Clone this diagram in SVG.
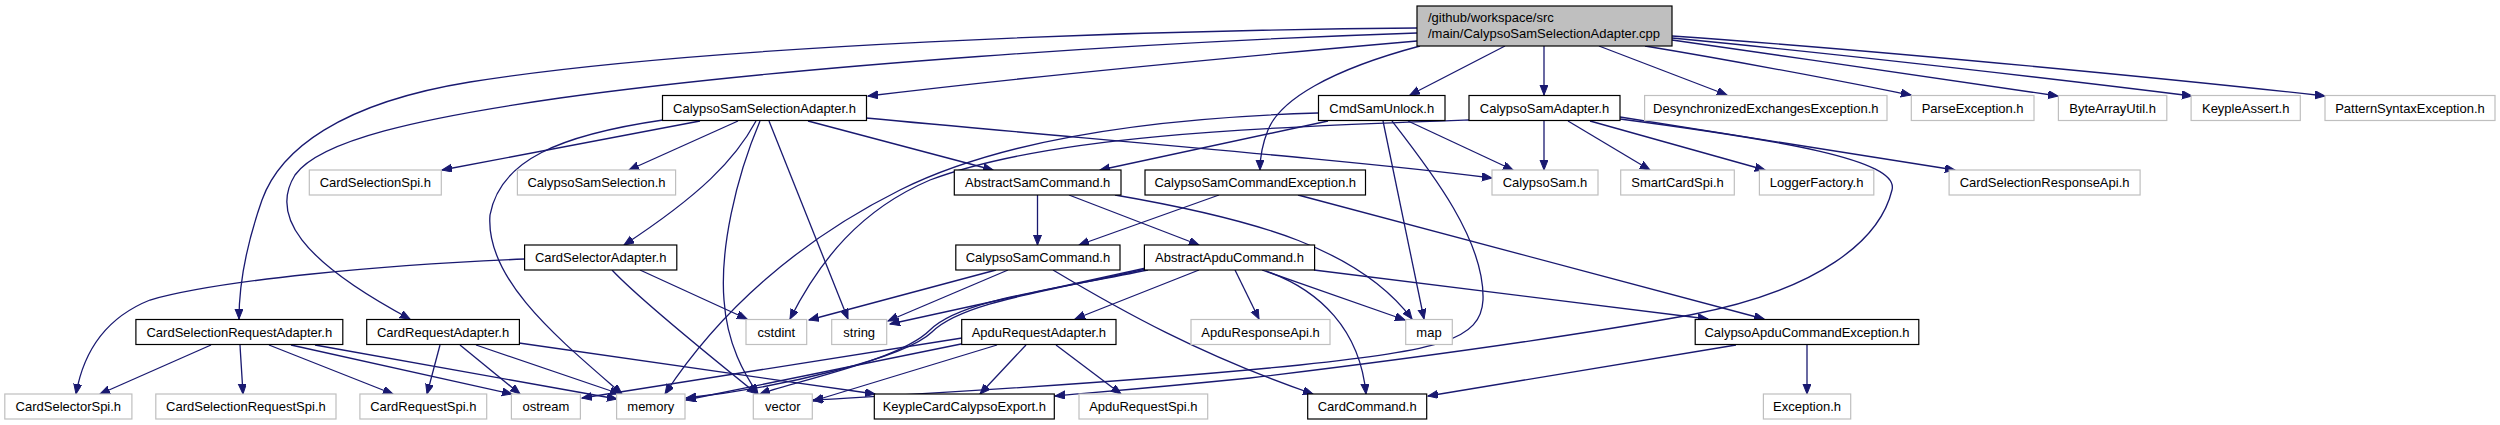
<svg xmlns="http://www.w3.org/2000/svg" width="2500" height="425" viewBox="0 0 2500 425">
<style>
.n rect{fill:#ffffff;stroke:#000000;stroke-width:1.2}
.n.x rect{stroke:#bfbfbf}
.n.root rect{fill:#bfbfbf}
.n text{font-family:"Liberation Sans",Arial,sans-serif;font-size:13px;fill:#000000;text-anchor:middle}
.n.root text{text-anchor:start}
#edges path{fill:none;stroke:#191970;stroke-width:1.3;marker-end:url(#ah)}
</style>
<defs>
<marker id="ah" markerUnits="userSpaceOnUse" markerWidth="11" markerHeight="9" refX="10" refY="4" orient="auto">
<path d="M0,0 L10,4 L0,8 z" fill="#191970" stroke="#191970" stroke-width="1"/>
</marker>
</defs>
<rect width="2500" height="425" fill="#ffffff"/>
<g id="edges">
<path d="M1417,41 C1200,60 1000,80 868,96"/>
<path d="M1417,28 C1150,30 700,45 470,82 C340,103 280,150 262,200 C248,240 239,280 239,319"/>
<path d="M1417,33 C1150,42 800,65 560,98 C420,118 320,140 295,175 C270,215 300,260 410,319"/>
<path d="M1505,46 L1410,95"/>
<path d="M1544,46 L1544,95"/>
<path d="M1420,46 C1330,70 1280,100 1268,130 C1262,145 1260,158 1260,170"/>
<path d="M1599,46 L1727,95"/>
<path d="M1645,46 C1760,65 1860,85 1911,95"/>
<path d="M1672,40 C1800,58 1960,82 2058,96"/>
<path d="M1672,38 C1850,55 2080,82 2192,96"/>
<path d="M1672,36 C1900,52 2200,82 2325,96"/>
<path d="M700,121 L442,170"/>
<path d="M738,121 L629,170"/>
<path d="M663,120 C560,135 500,160 490,215 C485,280 560,340 622,394"/>
<path d="M756,121 C735,160 700,195 624,245"/>
<path d="M760,121 C735,180 720,250 724,300 C727,345 745,375 758,394"/>
<path d="M769,121 L848,319"/>
<path d="M808,121 L993,170"/>
<path d="M866,118 C1100,140 1350,160 1492,178"/>
<path d="M1328,121 L1100,170"/>
<path d="M1318,113 C1150,118 1000,140 900,190 C800,240 720,310 665,394"/>
<path d="M1408,121 L1513,170"/>
<path d="M1383,121 L1424,319"/>
<path d="M1392,121 C1430,170 1485,240 1483,300 C1481,340 1440,350 1300,365 C1100,385 900,395 813,400"/>
<path d="M1544,121 L1544,170"/>
<path d="M1568,121 L1650,170"/>
<path d="M1590,121 L1765,170"/>
<path d="M1620,117 L1955,170"/>
<path d="M1620,119 C1780,140 1900,160 1892,190 C1880,240 1820,290 1690,315 C1550,340 1400,360 1250,378 C1150,388 1100,392 1055,396"/>
<path d="M1469,120 C1250,128 1050,135 930,180 C860,210 820,260 790,319"/>
<path d="M1037.5,195 L1037.5,245"/>
<path d="M1069,195 L1199,245"/>
<path d="M1115,195 C1260,220 1360,250 1412,319"/>
<path d="M1219,195 L1079,245"/>
<path d="M1298,195 L1764,319"/>
<path d="M996,270 L809,320"/>
<path d="M1008,270 L888,321"/>
<path d="M1053,270 C1120,310 1200,355 1313,394"/>
<path d="M1199,270 L1075,319"/>
<path d="M1235,270 L1259,319"/>
<path d="M1262,270 L1405,320"/>
<path d="M1266,271 C1320,290 1360,330 1366,394"/>
<path d="M1314,270 L1708,319"/>
<path d="M1146,268 L890,324"/>
<path d="M1148,270 C1050,290 960,300 930,330 C900,360 800,380 760,394"/>
<path d="M1146,269 C1050,291 962,302 932,332 C905,358 780,388 686,398"/>
<path d="M962,338 L582,398"/>
<path d="M966,343 L686,400"/>
<path d="M997,345 L813,401"/>
<path d="M1026,345 L980,394"/>
<path d="M1056,345 L1121,394"/>
<path d="M525,259 C380,265 220,280 150,300 C100,320 82,360 76,394"/>
<path d="M640,270 L747,319"/>
<path d="M612,270 Q640,300 757,394"/>
<path d="M211,345 L100,394"/>
<path d="M240,345 L243,394"/>
<path d="M269,345 L393,394"/>
<path d="M291,345 L512,394"/>
<path d="M315,345 L617,399"/>
<path d="M440,345 L427,394"/>
<path d="M460,345 L520,394"/>
<path d="M476,345 L620,394"/>
<path d="M519,343 L875,394"/>
<path d="M1736,345 L1428,396"/>
<path d="M1807,345 L1807,394"/>
</g>
<g id="n_root" class="n root"><rect x="1417" y="6" width="255" height="40"/><text x="1428" y="22">/github/workspace/src</text><text x="1428" y="38">/main/CalypsoSamSelectionAdapter.cpp</text></g>
<g id="n_cssa" class="n"><rect x="662.5" y="95.5" width="204" height="25"/><text x="764.5" y="112.5">CalypsoSamSelectionAdapter.h</text></g>
<g id="n_cmdsamunlock" class="n"><rect x="1318.5" y="95.5" width="126.5" height="25"/><text x="1381.75" y="112.5">CmdSamUnlock.h</text></g>
<g id="n_calypsosamadapter" class="n"><rect x="1469" y="95.5" width="151" height="25"/><text x="1544.5" y="112.5">CalypsoSamAdapter.h</text></g>
<g id="n_desync" class="n x"><rect x="1644.6" y="95.5" width="242.4" height="25"/><text x="1765.8" y="112.5">DesynchronizedExchangesException.h</text></g>
<g id="n_parse" class="n x"><rect x="1911.3" y="95.5" width="122.7" height="25"/><text x="1972.65" y="112.5">ParseException.h</text></g>
<g id="n_bytearray" class="n x"><rect x="2058.4" y="95.5" width="108.4" height="25"/><text x="2112.6" y="112.5">ByteArrayUtil.h</text></g>
<g id="n_keypleassert" class="n x"><rect x="2191.1" y="95.5" width="109.2" height="25"/><text x="2245.7" y="112.5">KeypleAssert.h</text></g>
<g id="n_pattern" class="n x"><rect x="2325" y="95.5" width="170" height="25"/><text x="2410" y="112.5">PatternSyntaxException.h</text></g>
<g id="n_cardselectionspi" class="n x"><rect x="309.3" y="170" width="132" height="25"/><text x="375.3" y="187">CardSelectionSpi.h</text></g>
<g id="n_calypsosamselection" class="n x"><rect x="517.4" y="170" width="158.2" height="25"/><text x="596.5" y="187">CalypsoSamSelection.h</text></g>
<g id="n_abstractsamcommand" class="n"><rect x="954.3" y="170" width="166.7" height="25"/><text x="1037.65" y="187">AbstractSamCommand.h</text></g>
<g id="n_csce" class="n"><rect x="1145" y="170" width="220.5" height="25"/><text x="1255.25" y="187">CalypsoSamCommandException.h</text></g>
<g id="n_calypsosam" class="n x"><rect x="1492" y="170" width="106" height="25"/><text x="1545" y="187">CalypsoSam.h</text></g>
<g id="n_smartcardspi" class="n x"><rect x="1620.7" y="170" width="113.6" height="25"/><text x="1677.5" y="187">SmartCardSpi.h</text></g>
<g id="n_loggerfactory" class="n x"><rect x="1759.4" y="170" width="114.4" height="25"/><text x="1816.6" y="187">LoggerFactory.h</text></g>
<g id="n_csrapi" class="n x"><rect x="1949.1" y="170" width="191" height="25"/><text x="2044.6" y="187">CardSelectionResponseApi.h</text></g>
<g id="n_cardselectoradapter" class="n"><rect x="524.6" y="245" width="152.2" height="25"/><text x="600.7" y="262">CardSelectorAdapter.h</text></g>
<g id="n_calypsosamcommand" class="n"><rect x="955.8" y="245" width="164.2" height="25"/><text x="1037.9" y="262">CalypsoSamCommand.h</text></g>
<g id="n_abstractapducommand" class="n"><rect x="1144.4" y="245" width="170.2" height="25"/><text x="1229.5" y="262">AbstractApduCommand.h</text></g>
<g id="n_csreqadapter" class="n"><rect x="135.9" y="319.5" width="206.9" height="25"/><text x="239.35" y="336.5">CardSelectionRequestAdapter.h</text></g>
<g id="n_cardrequestadapter" class="n"><rect x="366.7" y="319.5" width="152.7" height="25"/><text x="443.05" y="336.5">CardRequestAdapter.h</text></g>
<g id="n_cstdint" class="n x"><rect x="746" y="319.5" width="60.7" height="25"/><text x="776.35" y="336.5">cstdint</text></g>
<g id="n_string" class="n x"><rect x="831.7" y="319.5" width="55" height="25"/><text x="859.2" y="336.5">string</text></g>
<g id="n_apdurequestadapter" class="n"><rect x="961.7" y="319.5" width="154.3" height="25"/><text x="1038.85" y="336.5">ApduRequestAdapter.h</text></g>
<g id="n_apduresponseapi" class="n x"><rect x="1191" y="319.5" width="139" height="25"/><text x="1260.5" y="336.5">ApduResponseApi.h</text></g>
<g id="n_map" class="n x"><rect x="1405.7" y="319.5" width="46.6" height="25"/><text x="1429" y="336.5">map</text></g>
<g id="n_capce" class="n"><rect x="1695.2" y="319.5" width="223.6" height="25"/><text x="1807" y="336.5">CalypsoApduCommandException.h</text></g>
<g id="n_cardselectorspi" class="n x"><rect x="4.8" y="394" width="127.1" height="25"/><text x="68.35" y="411">CardSelectorSpi.h</text></g>
<g id="n_csreqspi" class="n x"><rect x="155.8" y="394" width="180.2" height="25"/><text x="245.9" y="411">CardSelectionRequestSpi.h</text></g>
<g id="n_cardrequestspi" class="n x"><rect x="359.9" y="394" width="126.8" height="25"/><text x="423.3" y="411">CardRequestSpi.h</text></g>
<g id="n_ostream" class="n x"><rect x="511.4" y="394" width="69" height="25"/><text x="545.9" y="411">ostream</text></g>
<g id="n_memory" class="n x"><rect x="616.6" y="394" width="68.4" height="25"/><text x="650.8" y="411">memory</text></g>
<g id="n_vector" class="n x"><rect x="753.3" y="394" width="59" height="25"/><text x="782.8" y="411">vector</text></g>
<g id="n_keyplecardcalypsoexport" class="n"><rect x="874.3" y="394" width="180" height="25"/><text x="964.3" y="411">KeypleCardCalypsoExport.h</text></g>
<g id="n_apdurequestspi" class="n x"><rect x="1079" y="394" width="128.7" height="25"/><text x="1143.35" y="411">ApduRequestSpi.h</text></g>
<g id="n_cardcommand" class="n"><rect x="1307.7" y="394" width="119" height="25"/><text x="1367.2" y="411">CardCommand.h</text></g>
<g id="n_exception" class="n x"><rect x="1763.4" y="394" width="87.3" height="25"/><text x="1807.05" y="411">Exception.h</text></g>
</svg>
